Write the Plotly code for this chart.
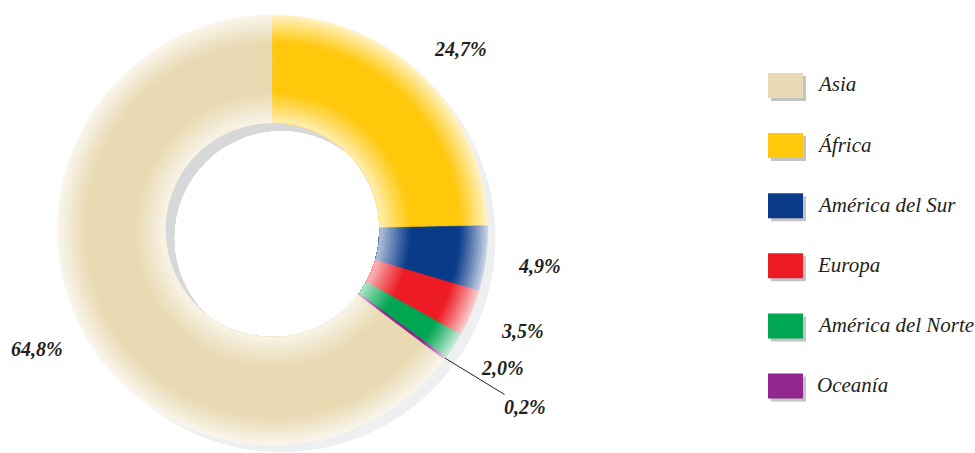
import math
import plotly.graph_objects as go

# ---- data ----
regions = ["Asia", "África", "América del Sur", "Europa", "América del Norte", "Oceanía"]
shares = [64.8, 24.7, 4.9, 3.5, 2.0, 0.2]
colors = ["#E9DAB3", "#FFC80B", "#0A3B89", "#ED1C24", "#00A651", "#92278F"]

# ---- layout constants (pixels) ----
W, H = 975, 453
CX, CY = 272.5, 230.0
R_OUT, R_IN = 215.0, 107.5
SHADOW_DX, SHADOW_DY, SHADOW_R = 9.0, 8.0, 214.0
N_LAYERS = 40
# Asia is drawn first (clockwise); rotate so that África starts at 12 o'clock
rotation = -shares[0] / sum(shares) * 360.0


def hex_to_rgb(h):
    h = h.lstrip("#")
    return tuple(int(h[i:i + 2], 16) for i in (0, 2, 4))


def lighten(h, w):
    r, g, b = hex_to_rgb(h)
    return "rgb(%d,%d,%d)" % (round(r + (255 - r) * w), round(g + (255 - g) * w), round(b + (255 - b) * w))


def whiteness(t):
    if t < 0.29:
        return 0.68 * ((0.29 - t) / 0.29) ** 1.1
    if t > 0.73:
        return 0.78 * ((t - 0.73) / 0.27) ** 1.1
    return 0.0


def domain_for(cx, cy, r):
    return dict(x=[(cx - r) / W, (cx + r) / W], y=[(H - cy - r) / H, (H - cy + r) / H])


fig = go.Figure()

# ---- drop shadow ring ----
n_sh = 10
for k in range(n_sh):
    r_k = SHADOW_R - k * (SHADOW_R - R_IN) / n_sh
    t = (r_k - (SHADOW_R - R_IN) / n_sh / 2 - R_IN) / (SHADOW_R - R_IN)
    w = 0.3 + 0.5 * max(0.0, (t - 0.6) / 0.4) ** 1.5
    col = lighten("#C6C7CA", w)
    fig.add_trace(go.Pie(
        values=[1], labels=["shadow"], marker=dict(colors=[col], line=dict(width=0)),
        hole=R_IN / r_k, domain=domain_for(CX + SHADOW_DX, CY + SHADOW_DY, r_k),
        textinfo="none", hoverinfo="skip", showlegend=False, sort=False,
    ))

# ---- donut with radial gradient (concentric layers) ----
step = (R_OUT - R_IN) / N_LAYERS
for k in range(N_LAYERS):
    r_k = R_OUT - k * step
    t = (r_k - step / 2 - R_IN) / (R_OUT - R_IN)
    w = whiteness(t)
    cols = [lighten(c, w) for c in colors]
    fig.add_trace(go.Pie(
        values=shares, labels=regions,
        marker=dict(colors=cols, line=dict(color=cols, width=0.6)),
        hole=R_IN / r_k, domain=domain_for(CX, CY, r_k),
        direction="clockwise", rotation=rotation, sort=False,
        textinfo="none", hoverinfo="skip", showlegend=False,
    ))


def fmt(v):
    return ("%.1f" % v).replace(".", ",") + "%"


lab_font = dict(family="Liberation Serif", size=20, color="#231F20", style="italic", weight="bold")

# percentage label positions (pixels, text centres)
label_pos = {
    "Asia": (37, 349),
    "África": (460, 49),
    "América del Sur": (539, 266),
    "Europa": (522, 331),
    "América del Norte": (503, 368),
}
for name, v in zip(regions, shares):
    if name in label_pos:
        px, py = label_pos[name]
        fig.add_annotation(x=px / W, y=1 - py / H, xref="paper", yref="paper",
                           text=fmt(v), showarrow=False, font=lab_font,
                           xanchor="center", yanchor="middle")

# Oceanía label with leader line from the slice edge
idx = regions.index("Oceanía")
total = sum(shares)
before = sum(shares[1:idx])  # África..América del Norte precede Oceanía clockwise from 12 o'clock
mid_frac = (before + shares[idx] / 2) / total
theta = mid_frac * 2 * math.pi
ex = CX + R_OUT * math.sin(theta)
ey = CY - R_OUT * math.cos(theta)
tx, ty = 525, 407
fig.add_annotation(x=ex / W, y=1 - ey / H, xref="paper", yref="paper",
                   text=fmt(shares[idx]), showarrow=True, arrowhead=0, arrowwidth=1,
                   arrowcolor="#231F20", ax=tx - ex, ay=ty - ey, font=lab_font)

# ---- custom legend ----
LX0, LX1 = 768, 803
LY0, LDY, LH = 85.5, 60.1, 25
leg_font = dict(family="Liberation Serif", size=21, color="#231F20", style="italic")
for i, (name, c) in enumerate(zip(regions, colors)):
    yc = LY0 + i * LDY
    fig.add_shape(type="rect", xref="paper", yref="paper",
                  x0=(LX0 + 3) / W, x1=(LX1 + 3) / W,
                  y0=1 - (yc + LH / 2 + 3) / H, y1=1 - (yc - LH / 2 + 3) / H,
                  fillcolor="#C4C4C6", line=dict(width=0), layer="below")
    fig.add_shape(type="rect", xref="paper", yref="paper",
                  x0=LX0 / W, x1=LX1 / W,
                  y0=1 - (yc + LH / 2) / H, y1=1 - (yc - LH / 2) / H,
                  fillcolor=c, line=dict(width=0), layer="above")
    fig.add_annotation(x=815 / W, y=1 - (yc - 1) / H, xref="paper", yref="paper",
                       text=name, showarrow=False, font=leg_font,
                       xanchor="left", yanchor="middle")

fig.update_layout(
    width=W, height=H, margin=dict(l=0, r=0, t=0, b=0),
    paper_bgcolor="white", plot_bgcolor="white", showlegend=False,
)

fig.write_html(
    "out.html",
    config={"displayModeBar": False},
    post_script="document.body.style.margin='0';document.body.style.padding='0';"
                "document.documentElement.style.overflow='hidden';",
)
